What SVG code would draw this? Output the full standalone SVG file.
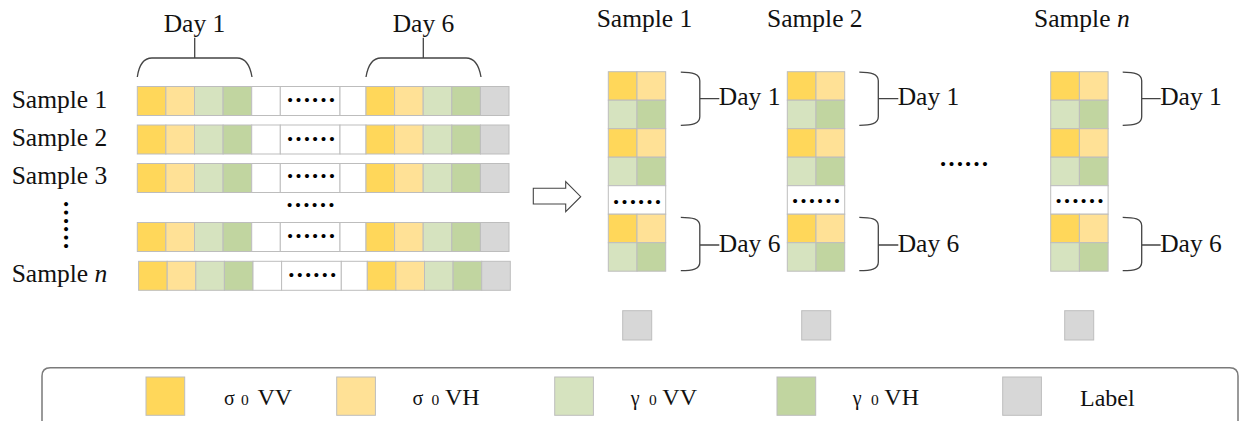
<svg xmlns="http://www.w3.org/2000/svg" width="1239" height="421" viewBox="0 0 1239 421">
<style>
.t{font-family:"Liberation Serif","Times New Roman",serif;fill:#111;font-size:25.5px}
.dots{font-family:"Liberation Serif","Times New Roman",serif;font-size:25px;font-weight:bold;fill:#000}
.lt{font-family:"Liberation Serif","Times New Roman",serif;fill:#111}
.c{stroke:#bdbdbd;stroke-width:1}
.y{fill:#FFD75A}.ly{fill:#FFE196}.lg{fill:#D6E3BF}.g{fill:#C1D5A0}.gr{fill:#D7D7D7}.w{fill:#fff}
.br{fill:none;stroke:#444;stroke-width:1.3}
</style>
<rect width="1239" height="421" fill="#fff"/>

<!-- top-left day labels -->
<g id="day-labels-top">
<text class="t" x="194.5" y="31.7" text-anchor="middle">Day 1</text>
<text class="t" x="423.5" y="31.7" text-anchor="middle">Day 6</text>
</g>

<!-- sample row labels -->
<g id="row-labels">
<text class="t" x="11.7" y="108.3">Sample 1</text>
<text class="t" x="11.7" y="146">Sample 2</text>
<text class="t" x="11.7" y="184">Sample 3</text>
<text class="t" x="11.7" y="281.5">Sample <tspan font-style="italic">n</tspan></text>
<text class="dots" transform="translate(65,225) rotate(90)" x="0" y="1.5" text-anchor="middle">……</text>
</g>

<!-- left rows -->
<g id="row-1" transform="translate(0,86.5)">
<rect class="c y" x="137.3" y="0" width="28.6" height="29"/>
<rect class="c ly" x="165.9" y="0" width="28.6" height="29"/>
<rect class="c lg" x="194.5" y="0" width="28.6" height="29"/>
<rect class="c g" x="223.1" y="0" width="28.6" height="29"/>
<rect class="c w" x="251.7" y="0" width="28.6" height="29"/>
<rect class="c w" x="280.3" y="0" width="59.7" height="29"/>
<rect class="c w" x="340" y="0" width="26" height="29"/>
<rect class="c y" x="366" y="0" width="28.6" height="29"/>
<rect class="c ly" x="394.6" y="0" width="28.6" height="29"/>
<rect class="c lg" x="423.2" y="0" width="28.6" height="29"/>
<rect class="c g" x="451.8" y="0" width="28.6" height="29"/>
<rect class="c gr" x="480.4" y="0" width="28.6" height="29"/>
<text class="dots" x="311" y="15" text-anchor="middle">……</text>
</g>
<g id="row-2" transform="translate(0,125)">
<rect class="c y" x="137.3" y="0" width="28.6" height="29"/>
<rect class="c ly" x="165.9" y="0" width="28.6" height="29"/>
<rect class="c lg" x="194.5" y="0" width="28.6" height="29"/>
<rect class="c g" x="223.1" y="0" width="28.6" height="29"/>
<rect class="c w" x="251.7" y="0" width="28.6" height="29"/>
<rect class="c w" x="280.3" y="0" width="59.7" height="29"/>
<rect class="c w" x="340" y="0" width="26" height="29"/>
<rect class="c y" x="366" y="0" width="28.6" height="29"/>
<rect class="c ly" x="394.6" y="0" width="28.6" height="29"/>
<rect class="c lg" x="423.2" y="0" width="28.6" height="29"/>
<rect class="c g" x="451.8" y="0" width="28.6" height="29"/>
<rect class="c gr" x="480.4" y="0" width="28.6" height="29"/>
<text class="dots" x="311" y="15.5" text-anchor="middle">……</text>
</g>
<g id="row-3" transform="translate(0,163.5)">
<rect class="c y" x="137.3" y="0" width="28.6" height="29"/>
<rect class="c ly" x="165.9" y="0" width="28.6" height="29"/>
<rect class="c lg" x="194.5" y="0" width="28.6" height="29"/>
<rect class="c g" x="223.1" y="0" width="28.6" height="29"/>
<rect class="c w" x="251.7" y="0" width="28.6" height="29"/>
<rect class="c w" x="280.3" y="0" width="59.7" height="29"/>
<rect class="c w" x="340" y="0" width="26" height="29"/>
<rect class="c y" x="366" y="0" width="28.6" height="29"/>
<rect class="c ly" x="394.6" y="0" width="28.6" height="29"/>
<rect class="c lg" x="423.2" y="0" width="28.6" height="29"/>
<rect class="c g" x="451.8" y="0" width="28.6" height="29"/>
<rect class="c gr" x="480.4" y="0" width="28.6" height="29"/>
<text class="dots" x="311" y="14.3" text-anchor="middle">……</text>
</g>
<g id="row-gap">
<text class="dots" x="310.5" y="207.2" text-anchor="middle">……</text>
</g>
<g id="row-4" transform="translate(0,222.5)">
<rect class="c y" x="137.3" y="0" width="28.6" height="29"/>
<rect class="c ly" x="165.9" y="0" width="28.6" height="29"/>
<rect class="c lg" x="194.5" y="0" width="28.6" height="29"/>
<rect class="c g" x="223.1" y="0" width="28.6" height="29"/>
<rect class="c w" x="251.7" y="0" width="28.6" height="29"/>
<rect class="c w" x="280.3" y="0" width="59.7" height="29"/>
<rect class="c w" x="340" y="0" width="26" height="29"/>
<rect class="c y" x="366" y="0" width="28.6" height="29"/>
<rect class="c ly" x="394.6" y="0" width="28.6" height="29"/>
<rect class="c lg" x="423.2" y="0" width="28.6" height="29"/>
<rect class="c g" x="451.8" y="0" width="28.6" height="29"/>
<rect class="c gr" x="480.4" y="0" width="28.6" height="29"/>
<text class="dots" x="311" y="15.3" text-anchor="middle">……</text>
</g>
<g id="row-n" transform="translate(1.3,261.3)">
<rect class="c y" x="137.3" y="0" width="28.6" height="29"/>
<rect class="c ly" x="165.9" y="0" width="28.6" height="29"/>
<rect class="c lg" x="194.5" y="0" width="28.6" height="29"/>
<rect class="c g" x="223.1" y="0" width="28.6" height="29"/>
<rect class="c w" x="251.7" y="0" width="28.6" height="29"/>
<rect class="c w" x="280.3" y="0" width="59.7" height="29"/>
<rect class="c w" x="340" y="0" width="26" height="29"/>
<rect class="c y" x="366" y="0" width="28.6" height="29"/>
<rect class="c ly" x="394.6" y="0" width="28.6" height="29"/>
<rect class="c lg" x="423.2" y="0" width="28.6" height="29"/>
<rect class="c g" x="451.8" y="0" width="28.6" height="29"/>
<rect class="c gr" x="480.4" y="0" width="28.6" height="29"/>
<text class="dots" x="311" y="15.2" text-anchor="middle">……</text>
</g>

<!-- right columns -->
<g id="sample-1">
<text class="t" x="596.7" y="26.7">Sample 1</text>
<g transform="translate(608.3,71.7)">
<rect class="c y" x="0" y="0" width="28.7" height="28.5"/>
<rect class="c ly" x="28.7" y="0" width="28.7" height="28.5"/>
<rect class="c lg" x="0" y="28.5" width="28.7" height="28.5"/>
<rect class="c g" x="28.7" y="28.5" width="28.7" height="28.5"/>
<rect class="c y" x="0" y="57" width="28.7" height="28.5"/>
<rect class="c ly" x="28.7" y="57" width="28.7" height="28.5"/>
<rect class="c lg" x="0" y="85.5" width="28.7" height="28.5"/>
<rect class="c g" x="28.7" y="85.5" width="28.7" height="28.5"/>
<rect class="c w" x="0" y="114" width="57.4" height="28.5"/>
<rect class="c y" x="0" y="142.5" width="28.7" height="28.5"/>
<rect class="c ly" x="28.7" y="142.5" width="28.7" height="28.5"/>
<rect class="c lg" x="0" y="171" width="28.7" height="28.5"/>
<rect class="c g" x="28.7" y="171" width="28.7" height="28.5"/>
<text class="dots" x="28.7" y="132" text-anchor="middle">……</text>
<rect class="c gr" x="14.4" y="239" width="29" height="29.3"/>
<text class="t" x="110.5" y="33.3">Day 1</text>
<text class="t" x="110.5" y="180.6">Day 6</text>
</g>
</g>
<g id="sample-2">
<text class="t" x="767" y="26.7">Sample 2</text>
<g transform="translate(787.3,71.7)">
<rect class="c y" x="0" y="0" width="28.7" height="28.5"/>
<rect class="c ly" x="28.7" y="0" width="28.7" height="28.5"/>
<rect class="c lg" x="0" y="28.5" width="28.7" height="28.5"/>
<rect class="c g" x="28.7" y="28.5" width="28.7" height="28.5"/>
<rect class="c y" x="0" y="57" width="28.7" height="28.5"/>
<rect class="c ly" x="28.7" y="57" width="28.7" height="28.5"/>
<rect class="c lg" x="0" y="85.5" width="28.7" height="28.5"/>
<rect class="c g" x="28.7" y="85.5" width="28.7" height="28.5"/>
<rect class="c w" x="0" y="114" width="57.4" height="28.5"/>
<rect class="c y" x="0" y="142.5" width="28.7" height="28.5"/>
<rect class="c ly" x="28.7" y="142.5" width="28.7" height="28.5"/>
<rect class="c lg" x="0" y="171" width="28.7" height="28.5"/>
<rect class="c g" x="28.7" y="171" width="28.7" height="28.5"/>
<text class="dots" x="28.7" y="131.5" text-anchor="middle">……</text>
<rect class="c gr" x="14.4" y="239" width="29" height="29.3"/>
<text class="t" x="110.4" y="33.3">Day 1</text>
<text class="t" x="110.4" y="180.6">Day 6</text>
</g>
</g>
<g id="samples-gap">
<text class="dots" x="964" y="166" text-anchor="middle">……</text>
</g>
<g id="sample-n">
<text class="t" x="1034" y="26.7">Sample <tspan font-style="italic">n</tspan></text>
<g transform="translate(1050.7,71.7)">
<rect class="c y" x="0" y="0" width="28.7" height="28.5"/>
<rect class="c ly" x="28.7" y="0" width="28.7" height="28.5"/>
<rect class="c lg" x="0" y="28.5" width="28.7" height="28.5"/>
<rect class="c g" x="28.7" y="28.5" width="28.7" height="28.5"/>
<rect class="c y" x="0" y="57" width="28.7" height="28.5"/>
<rect class="c ly" x="28.7" y="57" width="28.7" height="28.5"/>
<rect class="c lg" x="0" y="85.5" width="28.7" height="28.5"/>
<rect class="c g" x="28.7" y="85.5" width="28.7" height="28.5"/>
<rect class="c w" x="0" y="114" width="57.4" height="28.5"/>
<rect class="c y" x="0" y="142.5" width="28.7" height="28.5"/>
<rect class="c ly" x="28.7" y="142.5" width="28.7" height="28.5"/>
<rect class="c lg" x="0" y="171" width="28.7" height="28.5"/>
<rect class="c g" x="28.7" y="171" width="28.7" height="28.5"/>
<text class="dots" x="28.7" y="131.5" text-anchor="middle">……</text>
<rect class="c gr" x="14" y="239" width="29" height="29.3"/>
<text class="t" x="109.5" y="33.3">Day 1</text>
<text class="t" x="109.5" y="180.6">Day 6</text>
</g>
</g>

<!-- connectors: braces and arrow -->
<g id="connectors">
<path class="br" d="M137.3,77 C139,65 143,58 152,58 H237 C246,58 250,65 252,77 M194.7,58 V37.7"/>
<path class="br" d="M366,77 C368,65 372,58 381,58 H466 C475,58 479,65 481,77 M423.3,58 V37.7"/>
<g transform="translate(608.3,71.7)">
<path class="br" d="M72.5,0.5 C84,0.5 91.5,2 91.5,9 V45 C91.5,52 84,53.6 72.5,53.6 M91.5,27 H111"/>
<path class="br" d="M72.5,145.6 C84,145.6 91.5,147 91.5,154 V190.5 C91.5,197.5 84,199 72.5,199 M91.5,173.3 H111"/>
</g>
<g transform="translate(787.3,71.7)">
<path class="br" d="M72,0.5 C83.5,0.5 91,2 91,9 V45 C91,52 83.5,53.6 72,53.6 M91,27 H111"/>
<path class="br" d="M72,145.6 C83.5,145.6 91,147 91,154 V190.5 C91,197.5 83.5,199 72,199 M91,173.3 H111"/>
</g>
<g transform="translate(1050.7,71.7)">
<path class="br" d="M72,0.5 C83.5,0.5 91,2 91,9 V45 C91,52 83.5,53.6 72,53.6 M91,27 H110"/>
<path class="br" d="M72,145.6 C83.5,145.6 91,147 91,154 V190.5 C91,197.5 83.5,199 72,199 M91,173.3 H110"/>
</g>
<polygon points="533.3,188.3 565.7,188.3 565.7,181.7 580.7,196.7 565.7,211.7 565.7,204 533.3,204" fill="#fff" stroke="#444" stroke-width="1.1"/>
</g>

<!-- legend -->
<g id="legend">
<path d="M42,425 V376 Q42,367.7 50.3,367.7 H1229.7 Q1238,367.7 1238,376 V425" fill="none" stroke="#7a7a7a" stroke-width="1.5"/>
<g id="legend-s0vv">
<rect class="c y" x="146" y="377" width="38.7" height="38.3"/>
<text class="lt" y="404.5"><tspan x="224" font-size="20">σ</tspan><tspan x="241" font-size="15.5">0</tspan><tspan x="257.5" font-size="24">VV</tspan></text>
</g>
<g id="legend-s0vh">
<rect class="c ly" x="336.7" y="377" width="38.7" height="38.3"/>
<text class="lt" y="404.5"><tspan x="412.5" font-size="20">σ</tspan><tspan x="431.5" font-size="15.5">0</tspan><tspan x="445" font-size="24">VH</tspan></text>
</g>
<g id="legend-g0vv">
<rect class="c lg" x="554.7" y="377" width="38.7" height="38.3"/>
<text class="lt" y="404.5"><tspan x="630.7" font-size="20">γ</tspan><tspan x="649" font-size="15.5">0</tspan><tspan x="662.3" font-size="24">VV</tspan></text>
</g>
<g id="legend-g0vh">
<rect class="c g" x="777" y="377" width="38.7" height="38.3"/>
<text class="lt" y="404.5"><tspan x="852.7" font-size="20">γ</tspan><tspan x="871" font-size="15.5">0</tspan><tspan x="884.3" font-size="24">VH</tspan></text>
</g>
<g id="legend-label">
<rect class="c gr" x="1002.7" y="377" width="38.7" height="38.3"/>
<text class="lt" x="1080" y="406" font-size="24">Label</text>
</g>
</g>
</svg>
